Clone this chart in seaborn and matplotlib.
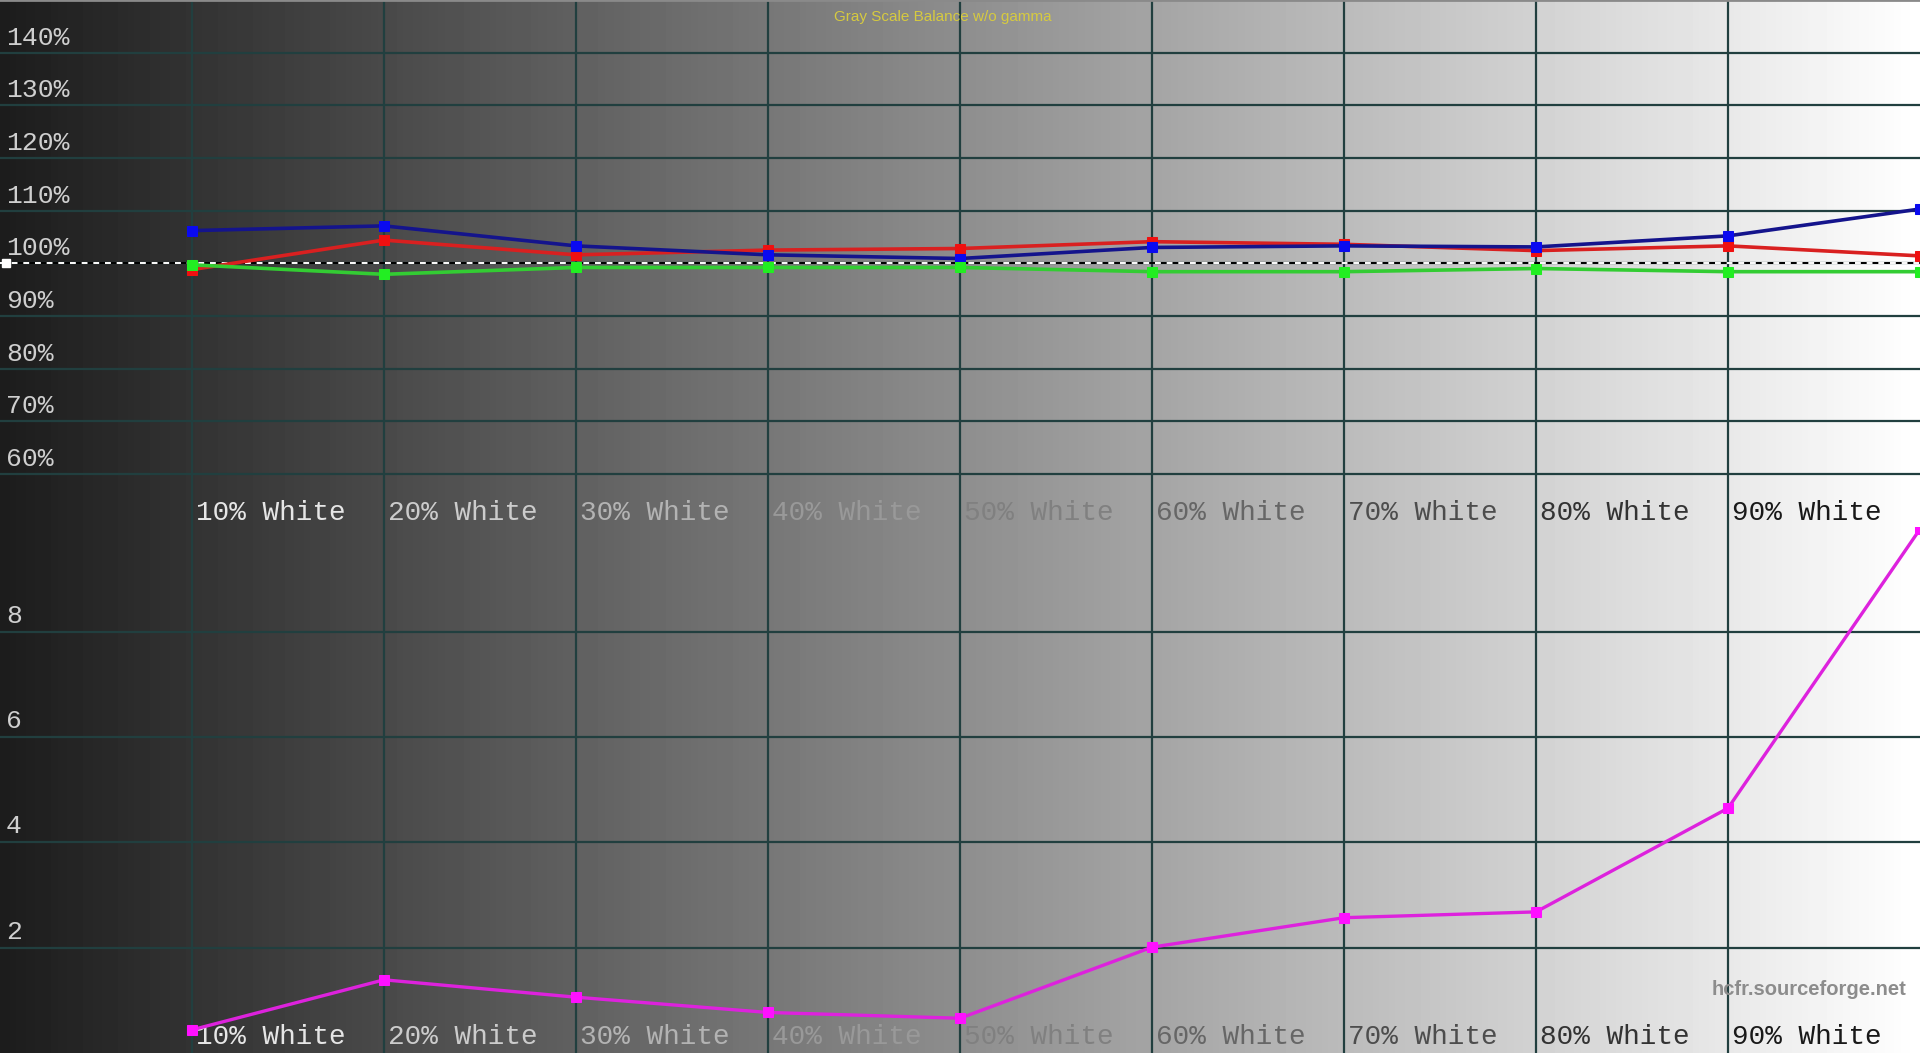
import numpy as np
import matplotlib
matplotlib.use("Agg")
import matplotlib.pyplot as plt
import seaborn as sns

levels = [10, 20, 30, 40, 50, 60, 70, 80, 90, 100]
red = [98.8, 104.4, 101.6, 102.5, 102.8, 104.1, 103.6, 102.4, 103.3, 101.4]
green = [99.7, 97.9, 99.2, 99.2, 99.2, 98.4, 98.4, 99.0, 98.4, 98.4]
blue = [106.2, 107.1, 103.3, 101.6, 100.9, 103.0, 103.3, 103.1, 105.2, 110.3]
delta_e = [0.44, 1.39, 1.06, 0.77, 0.66, 2.01, 2.57, 2.68, 4.65, 9.95]

label_levels = [10, 20, 30, 40, 50, 60, 70, 80, 90]
x_labels = ["10% White", "20% White", "30% White", "40% White", "50% White",
            "60% White", "70% White", "80% White", "90% White"]
pct_ticks = [60, 70, 80, 90, 100, 110, 120, 130, 140]
pct_labels = ["60%", "70%", "80%", "90%", "100%", "110%", "120%", "130%", "140%"]
de_ticks = [2, 4, 6, 8]
de_labels = ["2", "4", "6", "8"]
target = 100

sns.set_style("white")
plt.rcParams['font.family'] = ['Liberation Mono', 'DejaVu Sans Mono']

grid_c = '#213f3f'
mono = 'Liberation Mono'

fig = plt.figure(figsize=(19.2, 10.53), dpi=100)

# fondo en degradado (de gris oscuro a blanco)
bg = fig.add_axes([0, 0, 1, 1])
grad = np.linspace(0.11, 1.0, 600).reshape(1, -1)
bg.imshow(grad, aspect='auto', cmap='gray', vmin=0, vmax=1, extent=[0, 1, 0, 1])
bg.axis('off')

ax_top = fig.add_axes([0, 0.5, 1, 0.5])
ax_bot = fig.add_axes([0, 0, 1, 0.5])

for ax in (ax_top, ax_bot):
    ax.patch.set_alpha(0)
    ax.set_xlim(0, 100)
    ax.set_xticks(label_levels)
    ax.grid(True, color=grid_c, lw=1.6)
    ax.tick_params(length=0, labelbottom=False, labelleft=False)
    for s in ax.spines.values():
        s.set_visible(False)
    ax.set_xlabel("")
    ax.set_ylabel("")

ax_top.set_ylim(50, 150)
ax_top.set_yticks(pct_ticks)
ax_bot.set_ylim(0, 10)
ax_bot.set_yticks(de_ticks)
ax_top.spines['top'].set_visible(True)
ax_top.spines['top'].set_color('#8a8a8a')
ax_top.spines['top'].set_linewidth(2)

# línea de referencia 100%
ax_top.axhline(target, color='black', lw=1.4, zorder=2)
ax_top.axhline(target, color='white', lw=1.4, ls=(0, (3, 3)), zorder=2)
ax_top.plot([0.3], [target], marker='s', ms=6, color='white', zorder=3, clip_on=False)

# curvas RGB
sns.lineplot(x=levels, y=red, ax=ax_top, color='#d92020', lw=2.6, marker='s', ms=7.5,
             markerfacecolor='#f01010', markeredgecolor='#f01010', zorder=4)
sns.lineplot(x=levels, y=blue, ax=ax_top, color='#14148c', lw=2.6, marker='s', ms=7.5,
             markerfacecolor='#0a0af0', markeredgecolor='#0a0af0', zorder=5)
sns.lineplot(x=levels, y=green, ax=ax_top, color='#33cc33', lw=2.6, marker='s', ms=7.5,
             markerfacecolor='#22ee22', markeredgecolor='#22ee22', zorder=6)

# delta E
sns.lineplot(x=levels, y=delta_e, ax=ax_bot, color='#dd22dd', lw=2.4, marker='s', ms=7.5,
             markerfacecolor='#ff10ff', markeredgecolor='#ff10ff', zorder=4)

for ax in (ax_top, ax_bot):
    ax.set_xlabel("")
    ax.set_ylabel("")

# etiquetas del eje Y dentro del gráfico
for v, lab in zip(pct_ticks, pct_labels):
    ax_top.annotate(lab, xy=(0, v), xycoords=('axes fraction', 'data'), xytext=(6, 8),
                    textcoords='offset pixels', ha='left', va='baseline',
                    color='#cfcfcf', fontsize=19, family=mono)
for v, lab in zip(de_ticks, de_labels):
    ax_bot.annotate(lab, xy=(0, v), xycoords=('axes fraction', 'data'), xytext=(6, 9),
                    textcoords='offset pixels', ha='left', va='baseline',
                    color='#cfcfcf', fontsize=19, family=mono)

# etiquetas de X (color según el nivel de gris)
for ax, dy in ((ax_top, 7), (ax_bot, 9)):
    for lv, lab in zip(label_levels, x_labels):
        g = 1 - lv / 100
        ax.annotate(lab, xy=(lv, 0), xycoords=('data', 'axes fraction'), xytext=(4, dy),
                    textcoords='offset pixels', ha='left', va='baseline',
                    color=(g, g, g), fontsize=20, family=mono)

fig.text(0.491, 0.984, "Gray Scale Balance w/o gamma", ha='center', va='center',
         color='#d6ca40', fontsize=11, family='Liberation Sans')
fig.text(0.9927, 0.06, "hcfr.sourceforge.net", ha='right', va='center',
         color='#8c8c8c', fontsize=14.5, fontweight='bold', family='Liberation Sans')

fig.savefig("out.png", dpi=100)
